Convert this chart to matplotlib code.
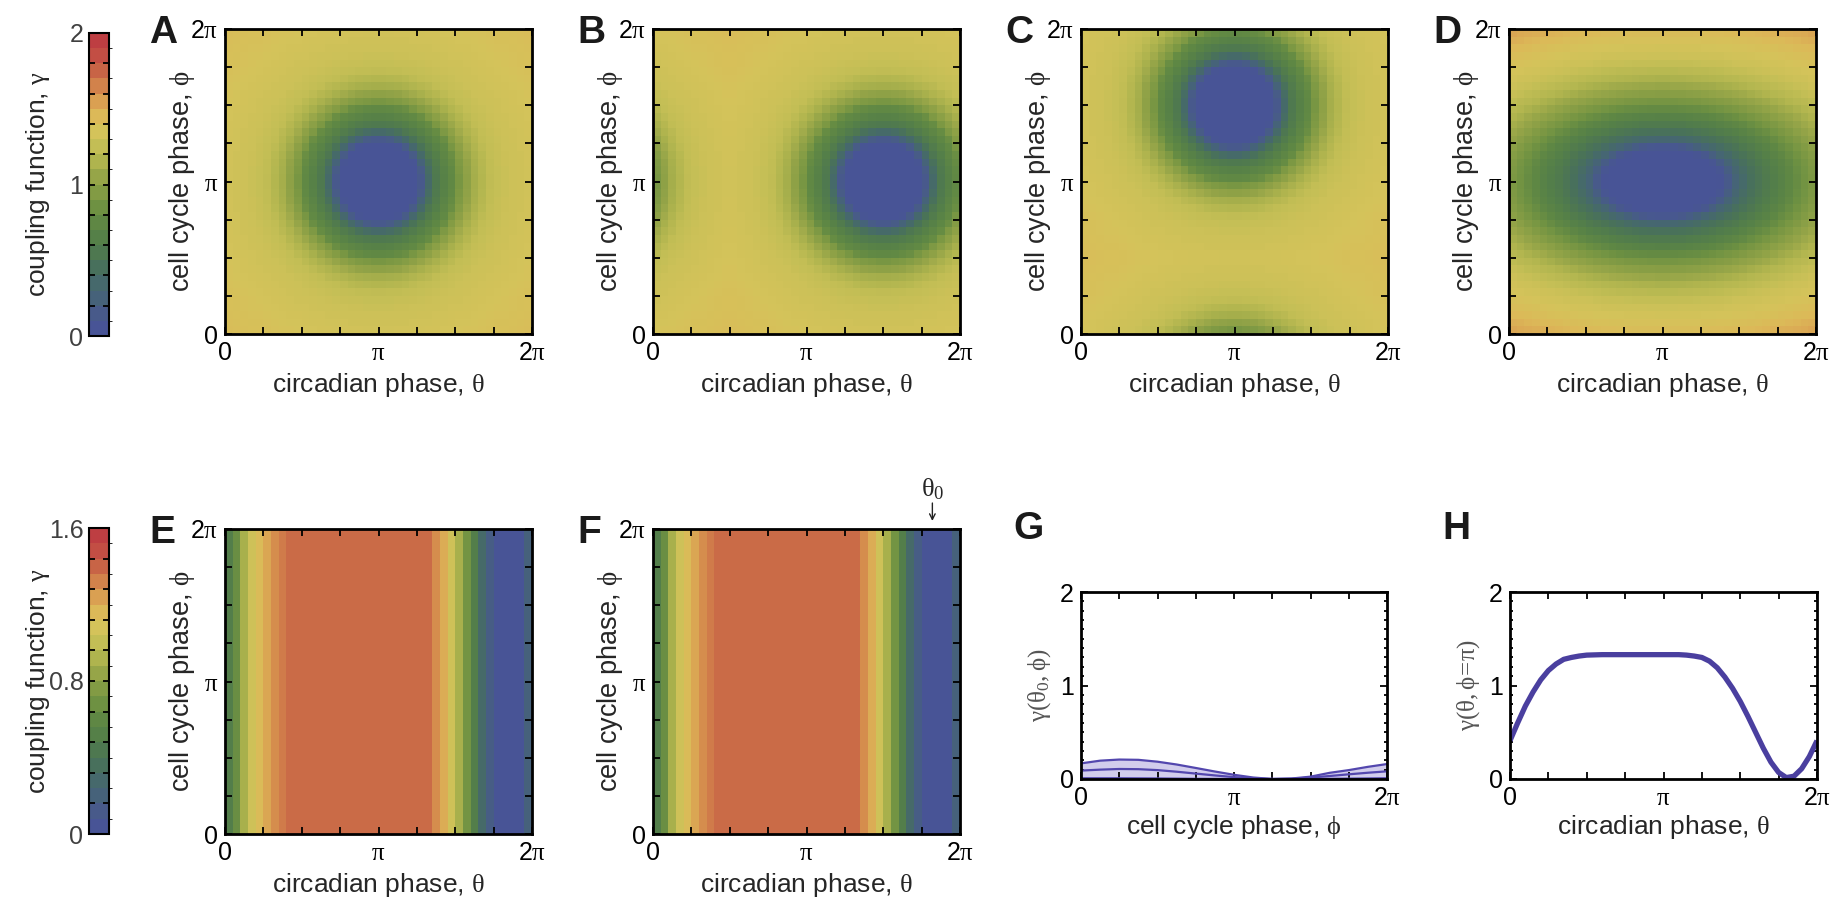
"""
Coupling function maps between circadian and cell cycle phase.
"""
import numpy as np
import matplotlib
matplotlib.use("Agg")
import matplotlib.pyplot as plt
from matplotlib.cm import ScalarMappable
from matplotlib.colors import ListedColormap, BoundaryNorm, LinearSegmentedColormap, Normalize
from matplotlib.ticker import FixedLocator, FixedFormatter, MultipleLocator

plt.rcParams['font.family'] = ['Liberation Sans', 'DejaVu Sans']
plt.rcParams['mathtext.fontset'] = 'custom'
plt.rcParams['mathtext.rm'] = 'Liberation Serif'
plt.rcParams['mathtext.it'] = 'Liberation Serif'
plt.rcParams['mathtext.default'] = 'rm'

PI = np.pi
W, H = 1835, 901

# 20-step colour scale, low -> high
level_colors = [
    (72, 84, 150), (72, 90, 138), (70, 98, 122), (70, 105, 108), (72, 112, 92),
    (78, 120, 80), (85, 128, 72), (95, 135, 68), (110, 145, 66), (130, 155, 68),
    (150, 165, 72), (175, 180, 78), (195, 190, 85), (212, 195, 90), (220, 185, 88),
    (218, 160, 82), (210, 130, 75), (200, 100, 70), (195, 78, 68), (190, 62, 66),
]

# A-C: radial profile of the coupling dip (distance in units of pi)
dip_radius = [0.0, 0.24, 0.28, 0.32, 0.37, 0.45, 0.50, 0.53, 0.62, 0.73, 0.85, 1.0, 1.2, 1.45]
dip_gamma = [0.0, 0.0, 0.15, 0.35, 0.55, 0.72, 0.80, 0.92, 1.10, 1.24, 1.3, 1.33, 1.37, 1.42]
dip_centers = [(1.0, 1.0), (1.5, 1.0), (1.0, 1.5)]  # (theta, phi) in units of pi

# D: dip stretched along theta
wide_stretch = 1.8
wide_radius = [0.0, 0.19, 0.23, 0.27, 0.32, 0.38, 0.45, 0.52, 0.6, 0.7, 0.82, 0.95, 1.05, 1.15]
wide_gamma = [0.0, 0.0, 0.12, 0.3, 0.45, 0.58, 0.72, 0.88, 1.02, 1.17, 1.3, 1.38, 1.47, 1.55]

# E, F: gamma for each of the 40 circadian columns
column_gamma = [0.50, 0.66, 0.90, 1.05, 1.14, 1.22, 1.29, 1.34,
                1.38, 1.38, 1.38, 1.38, 1.38, 1.38, 1.38, 1.38, 1.38, 1.38,
                1.38, 1.38, 1.38, 1.38, 1.38, 1.38, 1.38, 1.38, 1.38,
                1.29, 1.20, 1.05, 0.90, 0.70, 0.50, 0.30, 0.15, 0.03,
                0.0, 0.0, 0.03, 0.20]
theta0 = 1.82  # units of pi

# G: gamma(theta0, phi)
g_phi = [0, 0.125, 0.25, 0.375, 0.5, 0.625, 0.75, 0.875, 1.0, 1.125, 1.25,
         1.375, 1.5, 1.625, 1.75, 1.875, 2.0]
g_upper = [0.167, 0.196, 0.208, 0.205, 0.185, 0.155, 0.118, 0.08, 0.045, 0.016,
           0.0, 0.005, 0.025, 0.066, 0.095, 0.13, 0.16]
g_middle = [0.09, 0.10, 0.107, 0.105, 0.095, 0.078, 0.058, 0.038, 0.02, 0.007,
            0.0, 0.003, 0.015, 0.032, 0.05, 0.067, 0.082]
g_lower = [0.008, 0.008, 0.008, 0.007, 0.006, 0.004, 0.002, 0.001, 0.0, 0.0,
           0.0, 0.0, 0.001, 0.002, 0.004, 0.006, 0.008]

# H: gamma(theta, phi = pi)
h_theta = [0, 0.05, 0.1, 0.15, 0.2, 0.25, 0.3, 0.35, 0.4, 0.45, 0.5, 0.6, 0.7,
           0.8, 0.9, 1.0, 1.1, 1.15, 1.2, 1.25, 1.3, 1.35, 1.4, 1.45, 1.5, 1.55,
           1.6, 1.65, 1.7, 1.75, 1.8, 1.85, 1.9, 1.95, 2.0]
h_gamma = [0.41, 0.60, 0.78, 0.93, 1.06, 1.16, 1.23, 1.28, 1.30, 1.315, 1.325,
           1.33, 1.33, 1.33, 1.33, 1.33, 1.33, 1.325, 1.315, 1.30, 1.26, 1.19,
           1.09, 0.97, 0.83, 0.67, 0.50, 0.33, 0.18, 0.07, 0.015, 0.03, 0.11,
           0.24, 0.41]

TEXT = '#262626'
LINE = '#4a3f9f'

rgb = [tuple(c / 255 for c in col) for col in level_colors]
bar_cmap = ListedColormap(rgb)                       # stepped, for the colour bars
map_cmap = LinearSegmentedColormap.from_list('coupling', rgb, N=256)  # smooth, for the maps
bar_norm_top = BoundaryNorm(np.linspace(0, 2, 21), bar_cmap.N)
bar_norm_bot = BoundaryNorm(np.linspace(0, 1.6, 21), bar_cmap.N)
# map level centres onto colour stops
map_norm_top = Normalize(0.05, 1.95)
map_norm_bot = Normalize(0.04, 1.56)

n = 40
edges = np.linspace(0, 2, n + 1)
centers = (edges[:-1] + edges[1:]) / 2


def wrap(d):
    d = np.abs(d)
    return np.minimum(d, 2 - d)


def add_ax(fig, left, top, width, height):
    return fig.add_axes([left / W, 1 - (top + height) / H, width / W, height / H])


def phase_axis(axis):
    axis.set_major_locator(FixedLocator([0, PI, 2 * PI]))
    axis.set_major_formatter(FixedFormatter(['0', r'$\pi$', r'2$\pi$']))
    axis.set_minor_locator(MultipleLocator(PI / 4))


def style(ax, lw=2.0):
    for s in ax.spines.values():
        s.set_linewidth(lw)
    ax.tick_params(which='both', direction='in', top=True, right=True,
                   length=5, width=1.3, labelsize=18, pad=5, colors='black')


def heatmap(ax, Z, norm, letter):
    ax.pcolormesh(edges * PI, edges * PI, Z, cmap=map_cmap, norm=norm, shading='flat')
    ax.set_xlim(0, 2 * PI)
    ax.set_ylim(0, 2 * PI)
    phase_axis(ax.xaxis)
    phase_axis(ax.yaxis)
    style(ax)
    ax.set_xlabel(r'circadian phase, $\theta$', fontsize=19, color=TEXT)
    ax.set_ylabel(r'cell cycle phase, $\phi$', fontsize=19.5, color=TEXT)
    ax.xaxis.set_label_coords(0.5, -0.122)
    ax.yaxis.set_label_coords(-0.091, 0.5)
    bb = ax.get_position()
    fig.text(bb.x0 - 76 / W, bb.y1 + 14 / H, letter, fontsize=28,
             fontweight='bold', color='#1a1a1a', ha='left', va='top')


def colorbar(fig, top, height, norm, vmax, step, labels):
    cax = add_ax(fig, 89, top, 20, height)
    cb = fig.colorbar(ScalarMappable(norm=norm, cmap=bar_cmap), cax=cax)
    ticks = np.round(np.arange(0, vmax + 1e-9, step), 3)
    cb.set_ticks(ticks)
    cb.set_ticklabels([labels.get(round(t, 2), '') for t in ticks])
    cb.outline.set_linewidth(1.5)
    cax.tick_params(axis='y', direction='in', left=True, right=True,
                    labelleft=True, labelright=False, length=4, width=1.3,
                    labelsize=18, pad=4, labelcolor='#404040')
    cax.yaxis.set_label_position('left')
    cax.set_ylabel(r'coupling function, $\gamma$', fontsize=19, color=TEXT)
    cax.yaxis.set_label_coords(-1.85, 0.5)


fig = plt.figure(figsize=(W / 100, H / 100), dpi=100)

# top row colour maps
T, R = np.meshgrid(centers, centers)  # T: theta, R: phi
top_lefts = [225, 653, 1081, 1509]
for (c_t, c_p), left, letter in zip(dip_centers, top_lefts[:3], 'ABC'):
    dist = np.hypot(wrap(T - c_t), wrap(R - c_p))
    Z = np.interp(dist, dip_radius, dip_gamma)
    ax = add_ax(fig, left, 29, 307, 305)
    heatmap(ax, Z, map_norm_top, letter)

dist = np.hypot(wrap(T - 1.0) / wide_stretch, wrap(R - 1.0))
Z = np.interp(dist, wide_radius, wide_gamma)
ax = add_ax(fig, top_lefts[3], 29, 307, 305)
heatmap(ax, Z, map_norm_top, 'D')

colorbar(fig, 33, 303, bar_norm_top, 2.0, 0.2, {0.0: '0', 1.0: '1', 2.0: '2'})

# bottom row: no dependence on phi
Zc = np.tile(np.array(column_gamma), (n, 1))
ax_e = add_ax(fig, 225, 529, 307, 305)
heatmap(ax_e, Zc, map_norm_bot, 'E')
ax_f = add_ax(fig, 653, 529, 307, 305)
heatmap(ax_f, Zc, map_norm_bot, 'F')
ax_f.annotate('', xy=(theta0 * PI, 2 * PI), xytext=(0, 18.7),
              textcoords='offset points', annotation_clip=False,
              arrowprops=dict(arrowstyle='->', lw=1.0, color='#222222',
                              shrinkA=0, shrinkB=5.8, mutation_scale=10))
ax_f.annotate(r'$\theta_0$', xy=(theta0 * PI, 2 * PI), xytext=(0, 19.5),
              textcoords='offset points', ha='center', va='bottom',
              fontsize=19, color=TEXT, annotation_clip=False)

colorbar(fig, 528, 306, bar_norm_bot, 1.6, 0.16, {0.0: '0', 0.8: '0.8', 1.6: '1.6'})


def line_panel(ax, letter, xlabel, ylabel):
    ax.set_xlim(0, 2 * PI)
    ax.set_ylim(0, 2)
    phase_axis(ax.xaxis)
    ax.yaxis.set_major_locator(FixedLocator([0, 1, 2]))
    ax.yaxis.set_minor_locator(MultipleLocator(0.1))
    style(ax, lw=2.0)
    ax.tick_params(axis='y', which='minor', length=2.5)
    ax.set_xlabel(xlabel, fontsize=19, color=TEXT)
    ax.set_ylabel(ylabel, fontsize=18, color='#555555')
    ax.xaxis.set_label_coords(0.5, -0.182)
    ax.yaxis.set_label_coords(-0.091, 0.5)
    bb = ax.get_position()
    fig.text(bb.x0 - 68 / W, 1 - 511 / H, letter, fontsize=28,
             fontweight='bold', color='#1a1a1a', ha='left', va='top')


ax_g = add_ax(fig, 1081, 592, 306, 187)
gp = np.array(g_phi) * PI
ax_g.fill_between(gp, g_lower, g_upper, color='#d2cdec', lw=0)
for curve in (g_upper, g_middle, g_lower):
    ax_g.plot(gp, curve, color='#5347ae', lw=1.6)
line_panel(ax_g, 'G', r'cell cycle phase, $\phi$', r'$\gamma(\theta_0,\phi)$')

ax_h = add_ax(fig, 1510, 592, 307, 187)
ax_h.plot(np.array(h_theta) * PI, h_gamma, color=LINE, lw=3.8,
          solid_capstyle='butt')
line_panel(ax_h, 'H', r'circadian phase, $\theta$', r'$\gamma(\theta,\phi\!=\!\pi)$')

fig.savefig('out.png', dpi=100)
